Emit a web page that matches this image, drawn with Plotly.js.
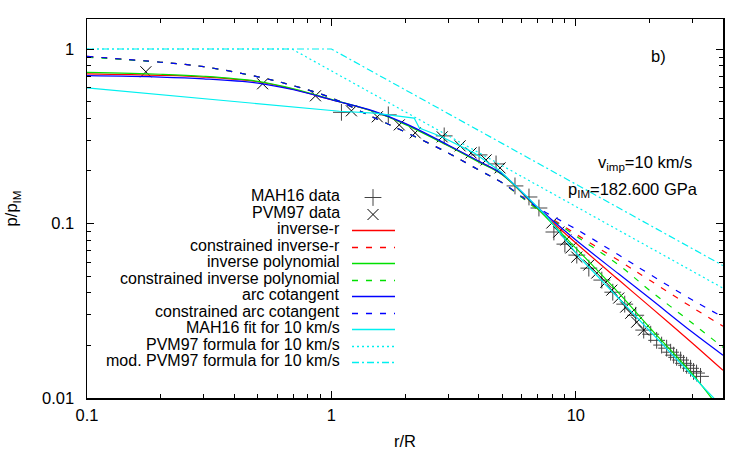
<!DOCTYPE html>
<html>
<head>
<meta charset="utf-8">
<script src="https://cdn.plot.ly/plotly-3.0.1.min.js"></script>
<style>html,body{margin:0;padding:0;background:#fff}#chart{width:750px;height:450px}</style>
</head>
<body>
<div id="chart"></div>
<script>
// ---------- data ----------
const mah16_x = [1.099, 1.709, 2.893, 4.019, 4.716, 5.636, 6.430, 7.063, 8.132, 9.019, 10.09, 11.30, 12.77, 14.16, 15.85, 17.58, 18.95, 20.24, 21.41, 22.44, 23.52, 24.42, 25.12, 25.84, 26.83, 27.59, 28.39, 29.47, 30.31, 31.18, 32.37];
const mah16_y = [0.4337, 0.4195, 0.3178, 0.2472, 0.2195, 0.1642, 0.1419, 0.1227, 0.0894, 0.0762, 0.0659, 0.0555, 0.0474, 0.0404, 0.0345, 0.0298, 0.0245, 0.0232, 0.0214, 0.0201, 0.0193, 0.0183, 0.0176, 0.0171, 0.0165, 0.0158, 0.0154, 0.0148, 0.0142, 0.0139, 0.0133];

const pvm97_x = [0.1741, 0.5230, 0.8604, 1.207, 1.541, 1.895, 2.202, 2.839, 3.361, 3.728, 4.292, 4.896, 7.980, 8.522, 9.103, 9.541, 10.09, 11.30, 12.18, 13.26, 14.03, 14.98, 16.00, 16.77, 17.74, 18.95];
const pvm97_y = [0.7408, 0.6321, 0.5393, 0.4423, 0.4088, 0.3675, 0.3307, 0.3137, 0.2786, 0.2539, 0.2314, 0.2083, 0.1007, 0.0894, 0.0804, 0.0724, 0.0642, 0.0578, 0.0520, 0.0461, 0.0415, 0.0374, 0.0332, 0.0306, 0.0272, 0.0245];

const fit_x = [0.1, 0.2, 0.3, 0.5, 0.7, 1, 1.5, 2, 3, 4, 5, 7, 10, 15, 20, 30, 40];
const inverse_r            = [0.721, 0.707, 0.691, 0.649, 0.588, 0.512, 0.437, 0.373, 0.280, 0.227, 0.191, 0.121, 0.0773, 0.0474, 0.0336, 0.0206, 0.0144];
const constr_inverse_r     = [0.907, 0.840, 0.792, 0.693, 0.616, 0.525, 0.403, 0.335, 0.254, 0.203, 0.171, 0.121, 0.0870, 0.0613, 0.0474, 0.0330, 0.0258];
const inverse_poly         = [0.734, 0.717, 0.698, 0.653, 0.592, 0.515, 0.437, 0.370, 0.279, 0.225, 0.190, 0.121, 0.0723, 0.0399, 0.0254, 0.0137, 0.00817];
const constr_inverse_poly  = [0.897, 0.840, 0.792, 0.693, 0.616, 0.525, 0.403, 0.335, 0.254, 0.203, 0.171, 0.1196, 0.0848, 0.0578, 0.0415, 0.0268, 0.0195];
const arc_cot              = [0.703, 0.691, 0.675, 0.638, 0.584, 0.512, 0.439, 0.375, 0.282, 0.228, 0.192, 0.123, 0.0804, 0.0513, 0.0374, 0.0238, 0.0176];
const constr_arc_cot       = [0.907, 0.840, 0.792, 0.693, 0.616, 0.525, 0.403, 0.335, 0.254, 0.203, 0.171, 0.123, 0.0930, 0.0659, 0.0513, 0.0364, 0.0291];

const mah16fit_x = [0.1, 1.08, 1.5, 2.18, 2.29, 2.81, 3.83, 4.94, 6.31, 7.62, 10.3, 36.6, 40];
const mah16fit_y = [0.599, 0.440, 0.429, 0.402, 0.352, 0.315, 0.254, 0.198, 0.1425, 0.1094, 0.0645, 0.0101, 0.0088];

const pvm97f_x = [0.1, 0.69, 40];
const pvm97f_y = [1, 1, 0.0426];
const modpvm97_x = [0.1, 1, 40];
const modpvm97_y = [1, 1, 0.0574];

const xtick_vals = [0.1, 1, 10];
const xtick_text = ['0.1', '1', '10'];
const ytick_vals = [0.01, 0.1, 1];
const ytick_text = ['0.01', '0.1', '1'];

const legend_labels = ['MAH16 data', 'PVM97 data', 'inverse-r', 'constrained inverse-r',
  'inverse polynomial', 'constrained inverse polynomial', 'arc cotangent',
  'constrained arc cotangent', 'MAH16 fit for 10 km/s', 'PVM97 formula for 10 km/s',
  'mod. PVM97 formula for 10 km/s'];

// ---------- styles ----------
const RED = '#ff0000', GREEN = '#00e000', BLUE = '#0000ff', CYAN = '#00f0f0';
const DASH = '6px,8px', DOT = '2px,3px', DASHDOT = '7px,3px,2px,3px';
const LW = 1.2;
const FS = 16.5, FS_KEY = 16;

const styles = [
  {mode: 'markers', marker: {symbol: 'cross-thin', size: 12, line: {width: 1, color: '#444'}}},
  {mode: 'markers', marker: {symbol: 'x-thin', size: 11, line: {width: 1, color: '#000'}}},
  {mode: 'lines', line: {color: RED, width: LW}},
  {mode: 'lines', line: {color: RED, width: LW, dash: DASH}},
  {mode: 'lines', line: {color: GREEN, width: LW}},
  {mode: 'lines', line: {color: GREEN, width: LW, dash: DASH}},
  {mode: 'lines', line: {color: BLUE, width: LW}},
  {mode: 'lines', line: {color: BLUE, width: LW, dash: DASH}},
  {mode: 'lines', line: {color: CYAN, width: LW}},
  {mode: 'lines', line: {color: CYAN, width: LW, dash: DOT}},
  {mode: 'lines', line: {color: CYAN, width: LW, dash: DASHDOT}}
];

const series = [
  [mah16_x, mah16_y], [pvm97_x, pvm97_y],
  [fit_x, inverse_r], [fit_x, constr_inverse_r],
  [fit_x, inverse_poly], [fit_x, constr_inverse_poly],
  [fit_x, arc_cot], [fit_x, constr_arc_cot],
  [mah16fit_x, mah16fit_y], [pvm97f_x, pvm97f_y], [modpvm97_x, modpvm97_y]
];

const traces = series.map((s, i) => {
  const t = Object.assign({x: s[0], y: s[1], type: 'scatter', showlegend: false, hoverinfo: 'skip', cliponaxis: true}, JSON.parse(JSON.stringify(styles[i])));
  if (i >= 2 && i <= 7) t.line.shape = 'spline';
  return t;
});

// ---------- custom gnuplot-style key (text left, sample right) ----------
const W = 750, H = 450, L = 87, R = 723, T = 19, B = 398;
const px2x = px => (px - L) / (R - L);
const py2y = py => (B - py) / (B - T);
const keyTextX = px2x(342), keyS0 = px2x(352), keyS1 = px2x(395), keyMid = px2x(373);
const keyRow0 = 197, keyStep = 16.5;

const annotations = [];
legend_labels.forEach((lab, i) => {
  const py = keyRow0 + i * keyStep;
  annotations.push({xref: 'paper', yref: 'paper', x: keyTextX, y: py2y(py - 1.5), xanchor: 'right', yanchor: 'middle',
    text: lab, showarrow: false, font: {size: FS_KEY}});
  const st = JSON.parse(JSON.stringify(styles[i]));
  const t = Object.assign({type: 'scatter', xaxis: 'x2', yaxis: 'y2', showlegend: false, hoverinfo: 'skip'}, st);
  const yy = Math.round(py) + 0.5;
  if (st.mode === 'markers') { t.x = [keyMid]; t.y = [py2y(yy)]; }
  else { t.x = [keyS0, keyS1]; t.y = [py2y(yy), py2y(yy)]; t.line.width = 1.3; }
  traces.push(t);
});

annotations.push({xref: 'paper', yref: 'paper', x: px2x(649), y: py2y(56), xanchor: 'left', yanchor: 'middle', text: 'b)', showarrow: false, font: {size: FS}});
annotations.push({xref: 'paper', yref: 'paper', x: px2x(596), y: py2y(163), xanchor: 'left', yanchor: 'middle', text: 'v<sub>imp</sub>=10 km/s', showarrow: false, font: {size: FS}});
annotations.push({xref: 'paper', yref: 'paper', x: px2x(566), y: py2y(190), xanchor: 'left', yanchor: 'middle', text: 'p<sub>IM</sub>=182.600 GPa', showarrow: false, font: {size: FS}});

const minorX = [0.2,0.3,0.4,0.5,0.6,0.7,0.8,0.9,2,3,4,5,6,7,8,9,20,30,40];
const minorY = [0.02,0.03,0.04,0.05,0.06,0.07,0.08,0.09,0.2,0.3,0.4,0.5,0.6,0.7,0.8,0.9];

const axisCommon = {
  type: 'log', ticks: 'inside', ticklen: 7, tickwidth: 1, tickcolor: '#000',
  showline: true, linecolor: '#000', linewidth: 1.5, mirror: 'ticks',
  showgrid: false, zeroline: false, tickmode: 'array',
  tickfont: {size: FS, color: '#000'}
};

const layout = {
  width: W, height: H,
  margin: {l: L, r: W - R, t: T, b: H - B},
  paper_bgcolor: '#fff', plot_bgcolor: '#fff',
  font: {family: '"Liberation Sans", Arial, sans-serif', size: FS, color: '#000'},
  showlegend: false,
  xaxis: Object.assign({}, axisCommon, {
    range: [-1, Math.log10(40)], tickvals: xtick_vals, ticktext: xtick_text, ticklabelstandoff: 2,
    minor: {tickmode: 'array', tickvals: minorX, ticks: 'inside', ticklen: 4, tickwidth: 1, tickcolor: '#000', showgrid: false},
    title: {text: 'r/R', standoff: 12, font: {size: FS}}
  }),
  yaxis: Object.assign({}, axisCommon, {
    range: [-2, Math.log10(1.486)], tickvals: ytick_vals, ticktext: ytick_text, ticklabelstandoff: 8,
    minor: {tickmode: 'array', tickvals: minorY, ticks: 'inside', ticklen: 4, tickwidth: 1, tickcolor: '#000', showgrid: false},
    title: {text: 'p/p<sub>IM</sub>', standoff: 20, font: {size: FS}}
  }),
  xaxis2: {overlaying: 'x', anchor: 'y2', range: [0, 1], visible: false, fixedrange: true},
  yaxis2: {overlaying: 'y', anchor: 'x2', range: [0, 1], visible: false, fixedrange: true},
  annotations: annotations
};

Plotly.newPlot('chart', traces, layout, {staticPlot: true, displayModeBar: false});
</script>
</body>
</html>
